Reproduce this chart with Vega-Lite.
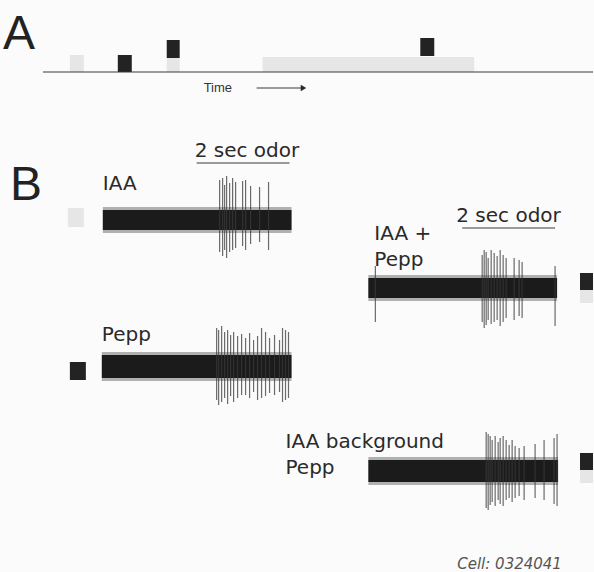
{
  "$schema": "https://vega.github.io/schema/vega-lite/v6.json",
  "autosize": {"type": "fit", "contains": "padding"},
  "width": 594,
  "height": 572,
  "padding": 0,
  "background": "#fbfbfb",
  "config": {"view": {"stroke": null}},
  "datasets": {
    "fuzz": [
      {"x": 103, "x2": 292, "y": 207, "y2": 233},
      {"x": 369, "x2": 558, "y": 275, "y2": 301},
      {"x": 102, "x2": 292, "y": 352, "y2": 381},
      {"x": 369, "x2": 559, "y": 457, "y2": 485}
    ],
    "rects": [
      {"x": 70, "x2": 84, "y": 55, "y2": 72, "kind": "light"},
      {"x": 118, "x2": 132, "y": 55, "y2": 72, "kind": "dark"},
      {"x": 167, "x2": 180, "y": 58, "y2": 72, "kind": "light"},
      {"x": 167, "x2": 180, "y": 40, "y2": 58, "kind": "dark"},
      {"x": 263, "x2": 475, "y": 57, "y2": 72, "kind": "light"},
      {"x": 421, "x2": 435, "y": 38, "y2": 56, "kind": "dark"},
      {"x": 68, "x2": 84, "y": 208, "y2": 227, "kind": "light"},
      {"x": 70, "x2": 86, "y": 362, "y2": 380, "kind": "dark"},
      {"x": 581, "x2": 594, "y": 273, "y2": 290, "kind": "dark"},
      {"x": 581, "x2": 594, "y": 290, "y2": 303, "kind": "light"},
      {"x": 581, "x2": 594, "y": 453, "y2": 470, "kind": "dark"},
      {"x": 581, "x2": 594, "y": 470, "y2": 483, "kind": "light"},
      {"x": 103, "x2": 292, "y": 210, "y2": 230, "kind": "trace"},
      {"x": 369, "x2": 558, "y": 278, "y2": 298, "kind": "trace"},
      {"x": 102, "x2": 292, "y": 355, "y2": 378, "kind": "trace"},
      {"x": 369, "x2": 559, "y": 460, "y2": 482, "kind": "trace"}
    ],
    "spikes": [
      {"t": 1, "x": 220, "y": 180, "y2": 252},
      {"t": 1, "x": 223, "y": 178, "y2": 256},
      {"t": 1, "x": 225, "y": 185, "y2": 250},
      {"t": 1, "x": 227, "y": 176, "y2": 258},
      {"t": 1, "x": 230, "y": 183, "y2": 252},
      {"t": 1, "x": 233, "y": 178, "y2": 250},
      {"t": 1, "x": 236, "y": 182, "y2": 248},
      {"t": 1, "x": 243, "y": 181, "y2": 246},
      {"t": 1, "x": 246, "y": 180, "y2": 250},
      {"t": 1, "x": 251, "y": 186, "y2": 244},
      {"t": 1, "x": 260, "y": 187, "y2": 242},
      {"t": 1, "x": 269, "y": 182, "y2": 250},
      {"t": 2, "x": 376, "y": 266, "y2": 322},
      {"t": 2, "x": 483, "y": 255, "y2": 322},
      {"t": 2, "x": 485, "y": 250, "y2": 328},
      {"t": 2, "x": 487, "y": 252, "y2": 325},
      {"t": 2, "x": 489, "y": 258, "y2": 320},
      {"t": 2, "x": 492, "y": 250, "y2": 324},
      {"t": 2, "x": 495, "y": 253, "y2": 322},
      {"t": 2, "x": 498, "y": 256, "y2": 320},
      {"t": 2, "x": 501, "y": 250, "y2": 326},
      {"t": 2, "x": 504, "y": 255, "y2": 322},
      {"t": 2, "x": 507, "y": 258, "y2": 318},
      {"t": 2, "x": 515, "y": 258, "y2": 320},
      {"t": 2, "x": 520, "y": 260, "y2": 316},
      {"t": 2, "x": 523, "y": 262, "y2": 318},
      {"t": 2, "x": 556, "y": 266, "y2": 326},
      {"t": 3, "x": 217, "y": 328, "y2": 400},
      {"t": 3, "x": 219, "y": 330, "y2": 405},
      {"t": 3, "x": 222, "y": 326, "y2": 402},
      {"t": 3, "x": 225, "y": 332, "y2": 398},
      {"t": 3, "x": 228, "y": 330, "y2": 404},
      {"t": 3, "x": 231, "y": 335, "y2": 396},
      {"t": 3, "x": 234, "y": 332, "y2": 402},
      {"t": 3, "x": 238, "y": 336, "y2": 398},
      {"t": 3, "x": 242, "y": 334, "y2": 395},
      {"t": 3, "x": 246, "y": 338, "y2": 395},
      {"t": 3, "x": 250, "y": 333, "y2": 398},
      {"t": 3, "x": 254, "y": 340, "y2": 392},
      {"t": 3, "x": 258, "y": 336, "y2": 400},
      {"t": 3, "x": 262, "y": 328, "y2": 398},
      {"t": 3, "x": 266, "y": 332, "y2": 396},
      {"t": 3, "x": 270, "y": 338, "y2": 393},
      {"t": 3, "x": 275, "y": 335, "y2": 395},
      {"t": 3, "x": 280, "y": 340, "y2": 392},
      {"t": 3, "x": 283, "y": 328, "y2": 402},
      {"t": 3, "x": 286, "y": 330, "y2": 400},
      {"t": 3, "x": 289, "y": 332, "y2": 398},
      {"t": 4, "x": 487, "y": 432, "y2": 508},
      {"t": 4, "x": 489, "y": 434, "y2": 510},
      {"t": 4, "x": 491, "y": 436, "y2": 505},
      {"t": 4, "x": 493, "y": 440, "y2": 502},
      {"t": 4, "x": 496, "y": 436, "y2": 506},
      {"t": 4, "x": 499, "y": 442, "y2": 500},
      {"t": 4, "x": 501, "y": 438, "y2": 504},
      {"t": 4, "x": 504, "y": 436, "y2": 506},
      {"t": 4, "x": 507, "y": 440, "y2": 500},
      {"t": 4, "x": 510, "y": 445, "y2": 498},
      {"t": 4, "x": 513, "y": 440, "y2": 502},
      {"t": 4, "x": 516, "y": 446, "y2": 498},
      {"t": 4, "x": 520, "y": 448, "y2": 496},
      {"t": 4, "x": 525, "y": 446, "y2": 500},
      {"t": 4, "x": 536, "y": 444, "y2": 498},
      {"t": 4, "x": 545, "y": 440, "y2": 500},
      {"t": 4, "x": 555, "y": 438, "y2": 504},
      {"t": 4, "x": 558, "y": 434, "y2": 506}
    ],
    "lines": [
      {"x": 43, "x2": 594, "y": 72, "y2": 72},
      {"x": 257, "x2": 303, "y": 88, "y2": 88},
      {"x": 197, "x2": 290, "y": 163, "y2": 163},
      {"x": 463, "x2": 556, "y": 228, "y2": 228}
    ],
    "arrowheads": [{"x": 304, "y": 88}],
    "bigtext": [
      {"x": 3, "y": 49, "label": "A"},
      {"x": 10, "y": 200, "label": "B"}
    ],
    "labels": [
      {"x": 103, "y": 190, "label": "IAA"},
      {"x": 195, "y": 157, "label": "2 sec odor"},
      {"x": 457, "y": 222, "label": "2 sec odor"},
      {"x": 375, "y": 240, "label": "IAA +"},
      {"x": 375, "y": 266, "label": "Pepp"},
      {"x": 102, "y": 341, "label": "Pepp"},
      {"x": 286, "y": 448, "label": "IAA background"},
      {"x": 286, "y": 474, "label": "Pepp"}
    ],
    "small": [{"x": 204, "y": 92, "label": "Time"}],
    "cell": [{"x": 458, "y": 569, "label": "Cell: 0324041"}]
  },
  "layer": [
    {
      "data": {"name": "fuzz"},
      "mark": {"type": "rect", "color": "#555555", "opacity": 0.45},
      "encoding": {
        "x": {"field": "x", "type": "quantitative", "scale": {"domain": [0, 594], "nice": false, "zero": false}, "axis": null},
        "x2": {"field": "x2"},
        "y": {"field": "y", "type": "quantitative", "scale": {"domain": [0, 572], "nice": false, "zero": false, "reverse": true}, "axis": null},
        "y2": {"field": "y2"}
      }
    },
    {
      "data": {"name": "rects"},
      "mark": {"type": "rect"},
      "encoding": {
        "x": {"field": "x", "type": "quantitative"},
        "x2": {"field": "x2"},
        "y": {"field": "y", "type": "quantitative"},
        "y2": {"field": "y2"},
        "color": {"field": "kind", "type": "nominal", "legend": null,
          "scale": {"domain": ["dark", "light", "trace"], "range": ["#232323", "#e6e6e6", "#1b1b1b"]}}
      }
    },
    {
      "data": {"name": "spikes"},
      "mark": {"type": "rule", "color": "#3a3a3a", "strokeWidth": 1.2, "opacity": 0.75},
      "encoding": {
        "x": {"field": "x", "type": "quantitative"},
        "y": {"field": "y", "type": "quantitative"},
        "y2": {"field": "y2"}
      }
    },
    {
      "data": {"name": "lines"},
      "mark": {"type": "rule", "color": "#3a3a3a", "strokeWidth": 1.2},
      "encoding": {
        "x": {"field": "x", "type": "quantitative"},
        "x2": {"field": "x2"},
        "y": {"field": "y", "type": "quantitative"},
        "y2": {"field": "y2"}
      }
    },
    {
      "data": {"name": "arrowheads"},
      "mark": {"type": "point", "shape": "triangle-right", "filled": true, "color": "#2a2a2a", "size": 40, "opacity": 1},
      "encoding": {
        "x": {"field": "x", "type": "quantitative"},
        "y": {"field": "y", "type": "quantitative"}
      }
    },
    {
      "data": {"name": "bigtext"},
      "mark": {"type": "text", "font": "Liberation Sans", "fontSize": 48, "align": "left", "baseline": "alphabetic", "color": "#222222"},
      "encoding": {
        "x": {"field": "x", "type": "quantitative"},
        "y": {"field": "y", "type": "quantitative"},
        "text": {"field": "label"}
      }
    },
    {
      "data": {"name": "labels"},
      "mark": {"type": "text", "font": "DejaVu Sans", "fontSize": 20, "align": "left", "baseline": "alphabetic", "color": "#2a2a2a"},
      "encoding": {
        "x": {"field": "x", "type": "quantitative"},
        "y": {"field": "y", "type": "quantitative"},
        "text": {"field": "label"}
      }
    },
    {
      "data": {"name": "small"},
      "mark": {"type": "text", "font": "Liberation Sans", "fontSize": 13, "align": "left", "baseline": "alphabetic", "color": "#333333"},
      "encoding": {
        "x": {"field": "x", "type": "quantitative"},
        "y": {"field": "y", "type": "quantitative"},
        "text": {"field": "label"}
      }
    },
    {
      "data": {"name": "cell"},
      "mark": {"type": "text", "font": "DejaVu Sans", "fontStyle": "italic", "fontSize": 15, "align": "left", "baseline": "alphabetic", "color": "#555555"},
      "encoding": {
        "x": {"field": "x", "type": "quantitative"},
        "y": {"field": "y", "type": "quantitative"},
        "text": {"field": "label"}
      }
    }
  ]
}
